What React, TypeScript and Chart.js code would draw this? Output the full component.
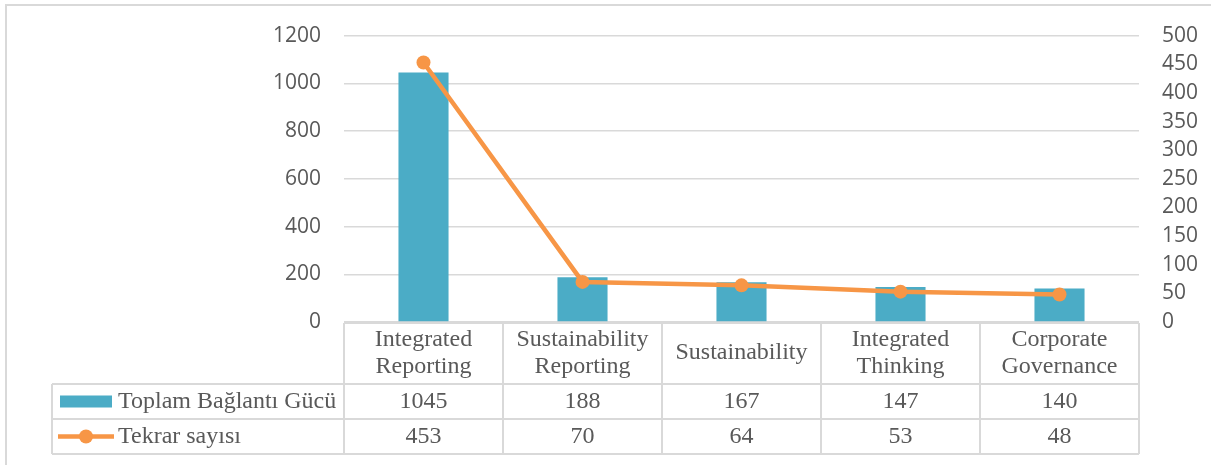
import React, { useEffect, useRef } from "react";
import { Chart, registerables } from "chart.js";

Chart.register(...registerables);

const categories: string[][] = [
  ["Integrated", "Reporting"],
  ["Sustainability", "Reporting"],
  ["Sustainability"],
  ["Integrated", "Thinking"],
  ["Corporate", "Governance"],
];
const seriesNames = ["Toplam Bağlantı Gücü", "Tekrar sayısı"];
const baglantiGucu = [1045, 188, 167, 147, 140];
const tekrarSayisi = [453, 70, 64, 53, 48];
const leftTicks = { min: 0, max: 1200, step: 200 };
const rightTicks = { min: 0, max: 500, step: 50 };

const BAR_COLOR = "#4BACC6";
const LINE_COLOR = "#F79646";
const TEXT_COLOR = "#595959";
const GRID_COLOR = "#d9d9d9";
const SERIF = "'Liberation Serif', 'Times New Roman', serif";
const SANS = "'Open Sans', 'Liberation Sans', sans-serif";

const tablePlugin = {
  id: "dataTable",
  afterDraw(chart: any) {
    const ctx = chart.ctx as CanvasRenderingContext2D;
    const area = chart.chartArea;
    const xs = chart.scales.x;
    const n = categories.length;
    const colW = (area.right - area.left) / n;
    const top = area.bottom + 1;
    const r1 = 384;
    const r2 = 419;
    const bottom = 454;
    const legLeft = 52;

    ctx.save();
    // outer frame
    ctx.strokeStyle = GRID_COLOR;
    ctx.lineWidth = 2;
    ctx.strokeRect(6, 5, 1400, 600);

    // table grid
    ctx.beginPath();
    ctx.moveTo(area.left, top);
    ctx.lineTo(area.right, top);
    for (const y of [r1, r2, bottom]) {
      ctx.moveTo(legLeft, y);
      ctx.lineTo(area.right, y);
    }
    ctx.moveTo(legLeft, r1);
    ctx.lineTo(legLeft, bottom);
    for (let i = 0; i <= n; i++) {
      const x = Math.round(area.left + i * colW);
      ctx.moveTo(x, top);
      ctx.lineTo(x, bottom);
    }
    ctx.stroke();

    // header labels
    ctx.fillStyle = TEXT_COLOR;
    ctx.font = `24px ${SERIF}`;
    ctx.textAlign = "center";
    ctx.textBaseline = "middle";
    const headMid = (top + r1) / 2 - 0.5;
    const lh = 27;
    categories.forEach((lines, i) => {
      const cx = xs.getPixelForValue(i);
      const start = headMid - ((lines.length - 1) * lh) / 2;
      lines.forEach((t, k) => ctx.fillText(t, cx, start + k * lh));
    });

    // values
    const row1Mid = (r1 + r2) / 2;
    const row2Mid = (r2 + bottom) / 2;
    baglantiGucu.forEach((v, i) => ctx.fillText(String(v), xs.getPixelForValue(i), row1Mid));
    tekrarSayisi.forEach((v, i) => ctx.fillText(String(v), xs.getPixelForValue(i), row2Mid));

    // legend keys
    ctx.textAlign = "left";
    ctx.fillStyle = BAR_COLOR;
    ctx.fillRect(60, row1Mid - 6, 52, 12);
    ctx.strokeStyle = LINE_COLOR;
    ctx.lineWidth = 4.5;
    ctx.beginPath();
    ctx.moveTo(58, row2Mid);
    ctx.lineTo(114, row2Mid);
    ctx.stroke();
    ctx.fillStyle = LINE_COLOR;
    ctx.beginPath();
    ctx.arc(86, row2Mid, 7, 0, Math.PI * 2);
    ctx.fill();
    ctx.fillStyle = TEXT_COLOR;
    ctx.fillText(seriesNames[0], 118, row1Mid);
    ctx.fillText(seriesNames[1], 118, row2Mid);
    ctx.restore();
  },
};

export default function App() {
  const ref = useRef<HTMLCanvasElement | null>(null);
  useEffect(() => {
    if (!ref.current) return;
    const chart = new Chart(ref.current, {
      type: "bar",
      data: {
        labels: categories.map((c) => c.join(" ")),
        datasets: [
          {
            type: "line",
            label: seriesNames[1],
            data: tekrarSayisi,
            yAxisID: "y1",
            borderColor: LINE_COLOR,
            backgroundColor: LINE_COLOR,
            borderWidth: 4.5,
            pointRadius: 7,
            pointBorderWidth: 0,
            pointBackgroundColor: LINE_COLOR,
            tension: 0,
            order: 0,
          } as any,
          {
            type: "bar",
            label: seriesNames[0],
            data: baglantiGucu,
            yAxisID: "y",
            backgroundColor: BAR_COLOR,
            categoryPercentage: 1,
            barPercentage: 0.315,
            order: 1,
          },
        ],
      },
      options: {
        responsive: false,
        animation: false,
        layout: { padding: { left: 0, right: 0, top: 35, bottom: 143 } },
        plugins: { legend: { display: false }, tooltip: { enabled: false } },
        scales: {
          x: { display: false, offset: true },
          y: {
            position: "left",
            min: leftTicks.min,
            max: leftTicks.max,
            afterFit: (s: any) => {
              s.width = 344;
            },
            ticks: {
              stepSize: leftTicks.step,
              padding: 23,
              color: TEXT_COLOR,
              font: { family: SANS, size: 21 },
              callback: (v: any) => String(v),
            },
            grid: { color: GRID_COLOR, lineWidth: 1.5, drawTicks: false },
            border: { display: false },
          },
          y1: {
            position: "right",
            min: rightTicks.min,
            max: rightTicks.max,
            afterFit: (s: any) => {
              s.width = 1211 - 1139;
            },
            ticks: {
              stepSize: rightTicks.step,
              padding: 23,
              color: TEXT_COLOR,
              font: { family: SANS, size: 21 },
              callback: (v: any) => String(v),
            },
            grid: { display: false, drawTicks: false },
            border: { display: false },
          },
        },
      },
      plugins: [tablePlugin],
    });
    return () => chart.destroy();
  }, []);
  return (
    <div style={{ position: "absolute", left: 0, top: 0, width: 1211, height: 465, background: "#fff" }}>
      <canvas ref={ref} width={1211} height={465} style={{ display: "block" }} />
    </div>
  );
}
